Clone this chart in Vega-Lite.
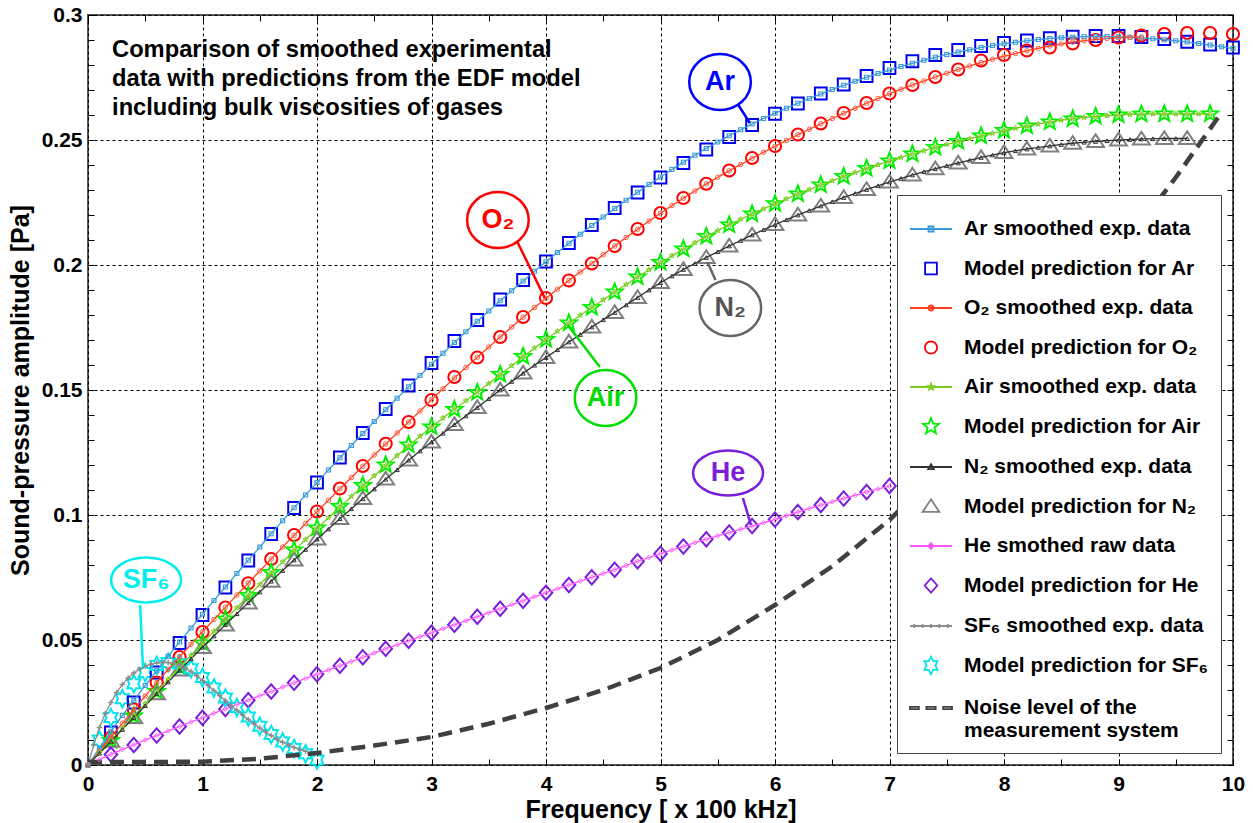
{
"$schema": "https://vega.github.io/schema/vega-lite/v6.json",
"width": 1145, "height": 750,
"autosize": {"type": "none"},
"padding": {"left": 88, "top": 15, "right": 20, "bottom": 58},
"background": "white",
"config": {
  "font": "Liberation Sans",
  "view": {"stroke": "#555555", "strokeWidth": 2},
  "axis": {"labelFont": "Liberation Sans", "labelFontSize": 21, "labelFontWeight": "bold", "labelColor": "#000000", "titleFont": "Liberation Sans", "titleFontSize": 25, "titleFontWeight": "bold", "titleColor": "#000000", "tickColor": "#000000", "tickSize": -6, "tickWidth": 1, "domain": false, "gridColor": "#000000", "gridDash": [3, 3], "gridWidth": 1, "labelOverlap": false, "labelBound": false, "labelFlush": false},
  "legend": {"padding": 12, "fillColor": "#ffffff", "strokeColor": "#444444", "labelFont": "Liberation Sans", "labelFontSize": 21, "labelFontWeight": "bold", "labelColor": "#000000", "labelLimit": 500, "labelOffset": 11, "rowPadding": 7.5, "symbolSize": 1764, "symbolStrokeWidth": 1.8, "symbolFillColor": "transparent", "symbolOpacity": 1}
},
"datasets": {
"exp": [
{"x":0,"ArE":0,"O2E":0,"AirE":0,"N2E":0,"HeE":0,"SF6E":0,"Noise":0.0012},
{"x":0.05,"SF6E":0.008},
{"x":0.1,"ArE":0.0068,"O2E":0.0055,"AirE":0.0049,"N2E":0.0047,"HeE":0.0022,"SF6E":0.015},
{"x":0.15,"SF6E":0.0205},
{"x":0.2,"ArE":0.0135,"O2E":0.0111,"AirE":0.0098,"N2E":0.0095,"HeE":0.0043,"SF6E":0.025},
{"x":0.25,"SF6E":0.029},
{"x":0.3,"ArE":0.0198,"O2E":0.0167,"AirE":0.0147,"N2E":0.0142,"HeE":0.0062,"SF6E":0.0322},
{"x":0.35,"SF6E":0.0348},
{"x":0.4,"ArE":0.0258,"O2E":0.0222,"AirE":0.0196,"N2E":0.019,"HeE":0.0081,"SF6E":0.0368},
{"x":0.45,"SF6E":0.0383},
{"x":0.5,"ArE":0.0318,"O2E":0.0276,"AirE":0.0245,"N2E":0.0237,"HeE":0.01,"SF6E":0.0395,"Noise":0.0012},
{"x":0.55,"SF6E":0.0403},
{"x":0.6,"ArE":0.0377,"O2E":0.033,"AirE":0.0294,"N2E":0.0285,"HeE":0.0118,"SF6E":0.0408},
{"x":0.65,"SF6E":0.041},
{"x":0.7,"ArE":0.0435,"O2E":0.0382,"AirE":0.0343,"N2E":0.0332,"HeE":0.0136,"SF6E":0.041},
{"x":0.75,"SF6E":0.0406},
{"x":0.8,"ArE":0.0492,"O2E":0.0433,"AirE":0.0391,"N2E":0.0379,"HeE":0.0154,"SF6E":0.0398},
{"x":0.85,"SF6E":0.0388},
{"x":0.9,"ArE":0.0548,"O2E":0.0483,"AirE":0.0439,"N2E":0.0425,"HeE":0.0172,"SF6E":0.0374},
{"x":0.95,"SF6E":0.0357},
{"x":1.0,"ArE":0.0603,"O2E":0.0533,"AirE":0.0487,"N2E":0.0471,"HeE":0.0189,"SF6E":0.0338,"Noise":0.0013},
{"x":1.05,"SF6E":0.0318},
{"x":1.1,"ArE":0.0658,"O2E":0.0582,"AirE":0.0535,"N2E":0.0516,"HeE":0.0207,"SF6E":0.0298},
{"x":1.15,"SF6E":0.0278},
{"x":1.2,"ArE":0.0712,"O2E":0.0631,"AirE":0.0582,"N2E":0.0561,"HeE":0.0224,"SF6E":0.0258},
{"x":1.25,"SF6E":0.0238},
{"x":1.3,"ArE":0.0766,"O2E":0.068,"AirE":0.0629,"N2E":0.0605,"HeE":0.0242,"SF6E":0.0219},
{"x":1.35,"SF6E":0.02},
{"x":1.4,"ArE":0.0819,"O2E":0.0728,"AirE":0.0676,"N2E":0.0649,"HeE":0.0259,"SF6E":0.0182},
{"x":1.45,"SF6E":0.0165},
{"x":1.5,"ArE":0.0872,"O2E":0.0776,"AirE":0.0722,"N2E":0.0692,"HeE":0.0277,"SF6E":0.0148,"Noise":0.0025},
{"x":1.55,"SF6E":0.0133},
{"x":1.6,"ArE":0.0925,"O2E":0.0824,"AirE":0.0768,"N2E":0.0735,"HeE":0.0294,"SF6E":0.0118},
{"x":1.65,"SF6E":0.0104},
{"x":1.7,"ArE":0.0977,"O2E":0.0872,"AirE":0.0813,"N2E":0.0778,"HeE":0.0312,"SF6E":0.0091},
{"x":1.75,"SF6E":0.008},
{"x":1.8,"ArE":0.1029,"O2E":0.0919,"AirE":0.0858,"N2E":0.082,"HeE":0.0329,"SF6E":0.007},
{"x":1.85,"SF6E":0.0062},
{"x":1.9,"ArE":0.108,"O2E":0.0966,"AirE":0.0902,"N2E":0.0862,"HeE":0.0346,"SF6E":0.0055},
{"x":2.0,"ArE":0.113,"O2E":0.1013,"AirE":0.0946,"N2E":0.0903,"HeE":0.0363,"Noise":0.0048},
{"x":2.1,"ArE":0.118,"O2E":0.1059,"AirE":0.0989,"N2E":0.0944,"HeE":0.038},
{"x":2.2,"ArE":0.1229,"O2E":0.1105,"AirE":0.1032,"N2E":0.0985,"HeE":0.0397},
{"x":2.3,"ArE":0.1278,"O2E":0.115,"AirE":0.1074,"N2E":0.1025,"HeE":0.0414},
{"x":2.4,"ArE":0.1326,"O2E":0.1195,"AirE":0.1116,"N2E":0.1065,"HeE":0.0431},
{"x":2.5,"ArE":0.1374,"O2E":0.124,"AirE":0.1157,"N2E":0.1104,"HeE":0.0448,"Noise":0.0078},
{"x":2.6,"ArE":0.1421,"O2E":0.1284,"AirE":0.1198,"N2E":0.1143,"HeE":0.0465},
{"x":2.7,"ArE":0.1467,"O2E":0.1328,"AirE":0.1238,"N2E":0.1181,"HeE":0.0481},
{"x":2.8,"ArE":0.1513,"O2E":0.1372,"AirE":0.1277,"N2E":0.1219,"HeE":0.0497},
{"x":2.9,"ArE":0.1558,"O2E":0.1416,"AirE":0.1315,"N2E":0.1256,"HeE":0.0513},
{"x":3.0,"ArE":0.1603,"O2E":0.1461,"AirE":0.1352,"N2E":0.1292,"HeE":0.0529,"Noise":0.0112},
{"x":3.1,"ArE":0.1647,"O2E":0.1505,"AirE":0.1388,"N2E":0.1327,"HeE":0.0545},
{"x":3.2,"ArE":0.169,"O2E":0.1548,"AirE":0.1423,"N2E":0.1362,"HeE":0.0561},
{"x":3.3,"ArE":0.1733,"O2E":0.159,"AirE":0.1457,"N2E":0.1396,"HeE":0.0577},
{"x":3.4,"ArE":0.1775,"O2E":0.1631,"AirE":0.1491,"N2E":0.143,"HeE":0.0593},
{"x":3.5,"ArE":0.1816,"O2E":0.1672,"AirE":0.1526,"N2E":0.1465,"HeE":0.0609,"Noise":0.0165},
{"x":3.6,"ArE":0.1857,"O2E":0.1712,"AirE":0.1561,"N2E":0.15,"HeE":0.0625},
{"x":3.7,"ArE":0.1897,"O2E":0.1752,"AirE":0.1597,"N2E":0.1534,"HeE":0.0641},
{"x":3.8,"ArE":0.1936,"O2E":0.1791,"AirE":0.1633,"N2E":0.1567,"HeE":0.0657},
{"x":3.9,"ArE":0.1975,"O2E":0.183,"AirE":0.1668,"N2E":0.1599,"HeE":0.0673},
{"x":4.0,"ArE":0.2013,"O2E":0.1867,"AirE":0.1702,"N2E":0.163,"HeE":0.0689,"Noise":0.0228},
{"x":4.1,"ArE":0.205,"O2E":0.1903,"AirE":0.1735,"N2E":0.1661,"HeE":0.0705},
{"x":4.2,"ArE":0.2087,"O2E":0.1938,"AirE":0.1767,"N2E":0.1692,"HeE":0.072},
{"x":4.3,"ArE":0.2123,"O2E":0.1972,"AirE":0.1799,"N2E":0.1722,"HeE":0.0736},
{"x":4.4,"ArE":0.2158,"O2E":0.2006,"AirE":0.183,"N2E":0.1752,"HeE":0.0751},
{"x":4.5,"ArE":0.2192,"O2E":0.2041,"AirE":0.1861,"N2E":0.1781,"HeE":0.0766,"Noise":0.03},
{"x":4.6,"ArE":0.2226,"O2E":0.2076,"AirE":0.1892,"N2E":0.181,"HeE":0.0781},
{"x":4.7,"ArE":0.2259,"O2E":0.211,"AirE":0.1922,"N2E":0.184,"HeE":0.0798},
{"x":4.8,"ArE":0.2291,"O2E":0.2143,"AirE":0.1952,"N2E":0.187,"HeE":0.0815},
{"x":4.9,"ArE":0.2322,"O2E":0.2176,"AirE":0.1981,"N2E":0.19,"HeE":0.083},
{"x":5.0,"ArE":0.2352,"O2E":0.2207,"AirE":0.2009,"N2E":0.1929,"HeE":0.0845,"Noise":0.0388},
{"x":5.1,"ArE":0.2382,"O2E":0.2238,"AirE":0.2037,"N2E":0.1956,"HeE":0.086},
{"x":5.2,"ArE":0.2411,"O2E":0.2267,"AirE":0.2063,"N2E":0.1982,"HeE":0.0874},
{"x":5.3,"ArE":0.2439,"O2E":0.2296,"AirE":0.2089,"N2E":0.2006,"HeE":0.0889},
{"x":5.4,"ArE":0.2466,"O2E":0.2324,"AirE":0.2114,"N2E":0.203,"HeE":0.0903},
{"x":5.5,"ArE":0.2492,"O2E":0.2351,"AirE":0.2138,"N2E":0.2053,"HeE":0.0917,"Noise":0.05},
{"x":5.6,"ArE":0.2517,"O2E":0.2377,"AirE":0.2161,"N2E":0.2076,"HeE":0.093},
{"x":5.7,"ArE":0.2541,"O2E":0.2402,"AirE":0.2183,"N2E":0.2098,"HeE":0.0943},
{"x":5.8,"ArE":0.2564,"O2E":0.2427,"AirE":0.2204,"N2E":0.212,"HeE":0.0956},
{"x":5.9,"ArE":0.2586,"O2E":0.2451,"AirE":0.2225,"N2E":0.2141,"HeE":0.0969},
{"x":6.0,"ArE":0.2607,"O2E":0.2475,"AirE":0.2245,"N2E":0.2161,"HeE":0.0982,"Noise":0.064},
{"x":6.1,"ArE":0.2627,"O2E":0.2498,"AirE":0.2265,"N2E":0.2181,"HeE":0.0997},
{"x":6.2,"ArE":0.2647,"O2E":0.2521,"AirE":0.2284,"N2E":0.22,"HeE":0.1012},
{"x":6.3,"ArE":0.2666,"O2E":0.2543,"AirE":0.2302,"N2E":0.2218,"HeE":0.1026},
{"x":6.4,"ArE":0.2684,"O2E":0.2565,"AirE":0.232,"N2E":0.2236,"HeE":0.104},
{"x":6.5,"ArE":0.2702,"O2E":0.2586,"AirE":0.2337,"N2E":0.2253,"HeE":0.1053,"Noise":0.0795},
{"x":6.6,"ArE":0.2719,"O2E":0.2607,"AirE":0.2354,"N2E":0.227,"HeE":0.1066},
{"x":6.7,"ArE":0.2735,"O2E":0.2627,"AirE":0.237,"N2E":0.2286,"HeE":0.1079},
{"x":6.8,"ArE":0.2751,"O2E":0.2647,"AirE":0.2386,"N2E":0.2302,"HeE":0.1092},
{"x":6.9,"ArE":0.2766,"O2E":0.2666,"AirE":0.2401,"N2E":0.2317,"HeE":0.1104},
{"x":7.0,"ArE":0.278,"O2E":0.2685,"AirE":0.2416,"N2E":0.2332,"HeE":0.1116,"Noise":0.098},
{"x":7.1,"ArE":0.2794,"O2E":0.2703,"AirE":0.243,"N2E":0.2346},
{"x":7.2,"ArE":0.2807,"O2E":0.272,"AirE":0.2444,"N2E":0.236},
{"x":7.3,"ArE":0.2819,"O2E":0.2736,"AirE":0.2457,"N2E":0.2373},
{"x":7.4,"ArE":0.2831,"O2E":0.2752,"AirE":0.247,"N2E":0.2385},
{"x":7.5,"ArE":0.2842,"O2E":0.2767,"AirE":0.2482,"N2E":0.2397,"Noise":0.121},
{"x":7.6,"ArE":0.2852,"O2E":0.2782,"AirE":0.2494,"N2E":0.2408},
{"x":7.7,"ArE":0.2861,"O2E":0.2796,"AirE":0.2505,"N2E":0.2419},
{"x":7.8,"ArE":0.287,"O2E":0.281,"AirE":0.2516,"N2E":0.243},
{"x":7.9,"ArE":0.2878,"O2E":0.2823,"AirE":0.2527,"N2E":0.244},
{"x":8.0,"ArE":0.2885,"O2E":0.2835,"AirE":0.2537,"N2E":0.2449,"Noise":0.148},
{"x":8.1,"ArE":0.2891,"O2E":0.2846,"AirE":0.2547,"N2E":0.2457},
{"x":8.2,"ArE":0.2897,"O2E":0.2857,"AirE":0.2556,"N2E":0.2464},
{"x":8.3,"ArE":0.2902,"O2E":0.2867,"AirE":0.2564,"N2E":0.247},
{"x":8.4,"ArE":0.2906,"O2E":0.2876,"AirE":0.2572,"N2E":0.2476},
{"x":8.5,"ArE":0.2909,"O2E":0.2884,"AirE":0.2579,"N2E":0.2482,"Noise":0.1765},
{"x":8.6,"ArE":0.2911,"O2E":0.2891,"AirE":0.2585,"N2E":0.2487},
{"x":8.7,"ArE":0.2913,"O2E":0.2897,"AirE":0.259,"N2E":0.2491},
{"x":8.8,"ArE":0.2914,"O2E":0.2902,"AirE":0.2594,"N2E":0.2494},
{"x":8.9,"ArE":0.2914,"O2E":0.2906,"AirE":0.2597,"N2E":0.2497},
{"x":9.0,"ArE":0.2913,"O2E":0.2909,"AirE":0.26,"N2E":0.25,"Noise":0.205},
{"x":9.1,"ArE":0.2911,"O2E":0.2911,"AirE":0.2602,"N2E":0.2502},
{"x":9.2,"ArE":0.2908,"O2E":0.2912,"AirE":0.2603,"N2E":0.2504},
{"x":9.3,"ArE":0.2905,"AirE":0.2604,"N2E":0.2505},
{"x":9.4,"ArE":0.2901,"AirE":0.2604,"N2E":0.2506},
{"x":9.5,"ArE":0.2897,"AirE":0.2604,"N2E":0.2506,"Noise":0.235},
{"x":9.6,"ArE":0.2892,"AirE":0.2604,"N2E":0.2506},
{"x":9.7,"ArE":0.2886,"AirE":0.2604},
{"x":9.8,"ArE":0.288,"AirE":0.2604},
{"x":9.9,"ArE":0.2873,"Noise":0.261},
{"x":10.0,"ArE":0.2866}
],
"mod": [
{"x":0.1,"SF6M":0.01},
{"x":0.2,"ArM":0.013,"O2M":0.011,"AirM":0.0098,"N2M":0.0095,"HeM":0.0042,"SF6M":0.019},
{"x":0.3,"SF6M":0.0265},
{"x":0.4,"ArM":0.025,"O2M":0.0222,"AirM":0.0196,"N2M":0.019,"HeM":0.008,"SF6M":0.0325},
{"x":0.5,"SF6M":0.037},
{"x":0.6,"ArM":0.037,"O2M":0.033,"AirM":0.0294,"N2M":0.0285,"HeM":0.0118,"SF6M":0.0398},
{"x":0.7,"SF6M":0.041},
{"x":0.8,"ArM":0.0488,"O2M":0.0432,"AirM":0.0392,"N2M":0.038,"HeM":0.0154,"SF6M":0.0405},
{"x":0.9,"SF6M":0.0385},
{"x":1.0,"ArM":0.06,"O2M":0.0532,"AirM":0.0488,"N2M":0.047,"HeM":0.0189,"SF6M":0.035},
{"x":1.1,"SF6M":0.0308},
{"x":1.2,"ArM":0.071,"O2M":0.063,"AirM":0.0584,"N2M":0.056,"HeM":0.0224,"SF6M":0.0268},
{"x":1.3,"SF6M":0.023},
{"x":1.4,"ArM":0.0818,"O2M":0.0727,"AirM":0.0678,"N2M":0.0648,"HeM":0.0259,"SF6M":0.0192},
{"x":1.5,"SF6M":0.0155},
{"x":1.6,"ArM":0.0924,"O2M":0.0824,"AirM":0.077,"N2M":0.0735,"HeM":0.0294,"SF6M":0.0122},
{"x":1.7,"SF6M":0.0092},
{"x":1.8,"ArM":0.1028,"O2M":0.092,"AirM":0.086,"N2M":0.082,"HeM":0.0329,"SF6M":0.0066},
{"x":1.9,"SF6M":0.0045},
{"x":2.0,"ArM":0.113,"O2M":0.1014,"AirM":0.0948,"N2M":0.0904,"HeM":0.0363,"SF6M":0.002},
{"x":2.2,"ArM":0.123,"O2M":0.1106,"AirM":0.1034,"N2M":0.0986,"HeM":0.0397},
{"x":2.4,"ArM":0.1328,"O2M":0.1196,"AirM":0.1118,"N2M":0.1066,"HeM":0.0431},
{"x":2.6,"ArM":0.1424,"O2M":0.1285,"AirM":0.12,"N2M":0.1144,"HeM":0.0465},
{"x":2.8,"ArM":0.1518,"O2M":0.1372,"AirM":0.128,"N2M":0.122,"HeM":0.0497},
{"x":3.0,"ArM":0.1608,"O2M":0.146,"AirM":0.1352,"N2M":0.1292,"HeM":0.0529},
{"x":3.2,"ArM":0.1696,"O2M":0.1552,"AirM":0.1422,"N2M":0.1362,"HeM":0.0561},
{"x":3.4,"ArM":0.178,"O2M":0.163,"AirM":0.149,"N2M":0.143,"HeM":0.0593},
{"x":3.6,"ArM":0.1862,"O2M":0.1712,"AirM":0.1562,"N2M":0.15,"HeM":0.0625},
{"x":3.8,"ArM":0.194,"O2M":0.1792,"AirM":0.1634,"N2M":0.1568,"HeM":0.0657},
{"x":4.0,"ArM":0.2014,"O2M":0.1868,"AirM":0.1702,"N2M":0.163,"HeM":0.0689},
{"x":4.2,"ArM":0.2088,"O2M":0.1938,"AirM":0.1768,"N2M":0.1692,"HeM":0.072},
{"x":4.4,"ArM":0.216,"O2M":0.2006,"AirM":0.183,"N2M":0.1752,"HeM":0.0751},
{"x":4.6,"ArM":0.2228,"O2M":0.2076,"AirM":0.1892,"N2M":0.181,"HeM":0.0781},
{"x":4.8,"ArM":0.229,"O2M":0.2144,"AirM":0.1952,"N2M":0.187,"HeM":0.0815},
{"x":5.0,"ArM":0.235,"O2M":0.2208,"AirM":0.201,"N2M":0.193,"HeM":0.0845},
{"x":5.2,"ArM":0.2408,"O2M":0.2268,"AirM":0.2064,"N2M":0.1982,"HeM":0.0874},
{"x":5.4,"ArM":0.2462,"O2M":0.2325,"AirM":0.2114,"N2M":0.203,"HeM":0.0903},
{"x":5.6,"ArM":0.2512,"O2M":0.2378,"AirM":0.216,"N2M":0.2076,"HeM":0.093},
{"x":5.8,"ArM":0.256,"O2M":0.2428,"AirM":0.2204,"N2M":0.212,"HeM":0.0956},
{"x":6.0,"ArM":0.2605,"O2M":0.2476,"AirM":0.2245,"N2M":0.2162,"HeM":0.0982},
{"x":6.2,"ArM":0.2646,"O2M":0.2522,"AirM":0.2284,"N2M":0.22,"HeM":0.1012},
{"x":6.4,"ArM":0.2686,"O2M":0.2566,"AirM":0.232,"N2M":0.2236,"HeM":0.104},
{"x":6.6,"ArM":0.2722,"O2M":0.2608,"AirM":0.2354,"N2M":0.227,"HeM":0.1066},
{"x":6.8,"ArM":0.2756,"O2M":0.2648,"AirM":0.2386,"N2M":0.2302,"HeM":0.1092},
{"x":7.0,"ArM":0.2788,"O2M":0.2686,"AirM":0.2416,"N2M":0.2332,"HeM":0.1116},
{"x":7.2,"ArM":0.2815,"O2M":0.272,"AirM":0.2444,"N2M":0.236},
{"x":7.4,"ArM":0.284,"O2M":0.2752,"AirM":0.247,"N2M":0.2385},
{"x":7.6,"ArM":0.286,"O2M":0.2782,"AirM":0.2494,"N2M":0.2408},
{"x":7.8,"ArM":0.2876,"O2M":0.2818,"AirM":0.2516,"N2M":0.243},
{"x":8.0,"ArM":0.2888,"O2M":0.284,"AirM":0.2538,"N2M":0.245},
{"x":8.2,"ArM":0.2898,"O2M":0.2858,"AirM":0.2556,"N2M":0.2464},
{"x":8.4,"ArM":0.2907,"O2M":0.287,"AirM":0.2572,"N2M":0.2476},
{"x":8.6,"ArM":0.2913,"O2M":0.2886,"AirM":0.2584,"N2M":0.2487},
{"x":8.8,"ArM":0.2916,"O2M":0.29,"AirM":0.2594,"N2M":0.2494},
{"x":9.0,"ArM":0.2916,"O2M":0.291,"AirM":0.26,"N2M":0.25},
{"x":9.2,"ArM":0.2912,"O2M":0.2918,"AirM":0.2603,"N2M":0.2504},
{"x":9.4,"ArM":0.2904,"O2M":0.2924,"AirM":0.2604,"N2M":0.2506},
{"x":9.6,"ArM":0.2893,"O2M":0.2928,"AirM":0.2604,"N2M":0.2506},
{"x":9.8,"ArM":0.2882,"O2M":0.2928,"AirM":0.2604},
{"x":10.0,"ArM":0.287,"O2M":0.2924}
],
"callouts": [
{"lbl":"Ar","cx":5.52,"cy":0.2732,"x1":5.68,"y1":0.264,"x2":5.78,"y2":0.2568},
{"lbl":"O₂","cx":3.58,"cy":0.218,"x1":3.75,"y1":0.2092,"x2":3.99,"y2":0.1868},
{"lbl":"Air","cx":4.52,"cy":0.1468,"x1":4.47,"y1":0.1592,"x2":4.19,"y2":0.176},
{"lbl":"N₂","cx":5.61,"cy":0.1828,"x1":5.48,"y1":0.194,"x2":5.41,"y2":0.2012},
{"lbl":"He","cx":5.59,"cy":0.1168,"x1":5.72,"y1":0.1068,"x2":5.79,"y2":0.096},
{"lbl":"SF₆","cx":0.507,"cy":0.074,"x1":0.455,"y1":0.064,"x2":0.48,"y2":0.0392}
],
"note": [
{"x":0.21,"y":0.2832,"t":"Comparison of smoothed experimental\ndata with predictions from the EDF model\nincluding bulk viscosities of gases"}
]
},
"layer": [
{
"data": {"name": "mod"},
"transform": [{"fold": ["ArM","O2M","AirM","N2M","HeM","SF6M"], "as": ["s","y"]}, {"filter": "isValid(datum.y)"}],
"mark": {"type": "point", "filled": false, "size": 1764, "strokeWidth": 2, "opacity": 1},
"encoding": {
  "x": {"field": "x", "type": "quantitative", "scale": {"domain": [0,10], "nice": false}, "axis": {"orient": "bottom", "values": [0,0.5,1,1.5,2,2.5,3,3.5,4,4.5,5,5.5,6,6.5,7,7.5,8,8.5,9,9.5,10], "labelExpr": "datum.value % 1 == 0 ? format(datum.value, 'd') : ''", "grid": true, "gridOpacity": {"condition": {"test": "datum.value % 1 == 0", "value": 1}, "value": 0}, "title": "Frequency [ x 100 kHz]", "labelPadding": 14, "titlePadding": 3}},
  "y": {"field": "y", "type": "quantitative", "scale": {"domain": [0,0.3], "nice": false}, "axis": {"orient": "left", "values": [0,0.01,0.02,0.03,0.04,0.05,0.06,0.07,0.08,0.09,0.1,0.11,0.12,0.13,0.14,0.15,0.16,0.17,0.18,0.19,0.2,0.21,0.22,0.23,0.24,0.25,0.26,0.27,0.28,0.29,0.3], "labelExpr": "round(datum.value*100) % 5 == 0 ? format(datum.value, '~g') : ''", "grid": true, "gridOpacity": {"condition": {"test": "round(datum.value*100) % 5 == 0", "value": 1}, "value": 0}, "title": "Sound-pressure amplitude [Pa]", "labelPadding": 12, "titlePadding": 8}},
  "color": {"field": "s", "type": "nominal",
    "scale": {"domain": ["ArE","ArM","O2E","O2M","AirE","AirM","N2E","N2M","HeE","HeM","SF6E","SF6M","Noise"],
              "range": ["#3a9ad9","#0000ee","#ff4020","#ff0000","#7acc1e","#00ee00","#333333","#808080","#ff55ff","#7b1fdc","#8c8c8c","#00e5ee","#404040"]},
    "legend": {"title": null, "orient": "none", "legendX": 809, "legendY": 180, "direction": "vertical",
      "labelExpr": "datum.value=='ArE'?'Ar smoothed exp. data':datum.value=='ArM'?'Model prediction for Ar':datum.value=='O2E'?'O₂ smoothed exp. data':datum.value=='O2M'?'Model prediction for O₂':datum.value=='AirE'?'Air smoothed exp. data':datum.value=='AirM'?'Model prediction for Air':datum.value=='N2E'?'N₂ smoothed exp. data':datum.value=='N2M'?'Model prediction for N₂':datum.value=='HeE'?'He smothed raw data':datum.value=='HeM'?'Model prediction for He':datum.value=='SF6E'?'SF₆ smoothed exp. data':datum.value=='SF6M'?'Model prediction for SF₆':['Noise level of the','measurement system']"}},
  "shape": {"field": "s", "type": "nominal",
    "scale": {"domain": ["ArE","ArM","O2E","O2M","AirE","AirM","N2E","N2M","HeE","HeM","SF6E","SF6M","Noise"],
              "range": [
                "M-1,0H1M-0.12,-0.12H0.12V0.12H-0.12Z",
                "M-0.28,-0.28H0.28V0.28H-0.28Z",
                "M-1,0H1M-0.12,0A0.12,0.12 0 1,0 0.12,0A0.12,0.12 0 1,0 -0.12,0Z",
                "M-0.29,0A0.29,0.29 0 1,0 0.29,0A0.29,0.29 0 1,0 -0.29,0Z",
                "M-1,0H1M0,-0.15L0.037,-0.051L0.143,-0.046L0.06,0.019L0.088,0.121L0,0.063L-0.088,0.121L-0.06,0.019L-0.143,-0.046L-0.037,-0.051Z",
                "M0,-0.4L0.099,-0.136L0.38,-0.124L0.16,0.052L0.235,0.324L0,0.168L-0.235,0.324L-0.16,0.052L-0.38,-0.124L-0.099,-0.136Z",
                "M-1,0H1M0,-0.13L0.13,0.1H-0.13Z",
                "M0,-0.34L0.4,0.26H-0.4Z",
                "M-1,0H1M0,-0.14L0.12,0L0,0.14L-0.12,0Z",
                "M0,-0.34L0.3,0L0,0.34L-0.3,0Z",
                "M-1,0H1M-0.8,-0.09V0.09M-0.4,-0.09V0.09M0,-0.09V0.09M0.4,-0.09V0.09M0.8,-0.09V0.09",
                "M0,-0.42L0.104,-0.21L0.312,-0.21L0.208,0L0.312,0.21L0.104,0.21L0,0.42L-0.104,0.21L-0.312,0.21L-0.208,0L-0.312,-0.21L-0.104,-0.21Z",
                "M-1,-0.05H-0.58V0.05H-1ZM-0.22,-0.05H0.22V0.05H-0.22ZM0.58,-0.05H1V0.05H0.58Z"
              ]},
    "legend": {"title": null, "orient": "none", "legendX": 809, "legendY": 180, "direction": "vertical",
      "labelExpr": "datum.value=='ArE'?'Ar smoothed exp. data':datum.value=='ArM'?'Model prediction for Ar':datum.value=='O2E'?'O₂ smoothed exp. data':datum.value=='O2M'?'Model prediction for O₂':datum.value=='AirE'?'Air smoothed exp. data':datum.value=='AirM'?'Model prediction for Air':datum.value=='N2E'?'N₂ smoothed exp. data':datum.value=='N2M'?'Model prediction for N₂':datum.value=='HeE'?'He smothed raw data':datum.value=='HeM'?'Model prediction for He':datum.value=='SF6E'?'SF₆ smoothed exp. data':datum.value=='SF6M'?'Model prediction for SF₆':['Noise level of the','measurement system']"}}
}
},
{
"data": {"name": "exp"},
"transform": [{"fold": ["ArE","O2E","AirE","N2E","HeE","SF6E","Noise"], "as": ["s","y"]}, {"filter": "isValid(datum.y)"}],
"mark": {"type": "line", "strokeCap": "butt"},
"encoding": {
  "x": {"field": "x", "type": "quantitative", "axis": null},
  "y": {"field": "y", "type": "quantitative", "axis": null},
  "color": {"field": "s", "type": "nominal"},
  "strokeWidth": {"condition": {"test": "datum.s == 'Noise'", "value": 4.5}, "value": 1.3},
  "strokeDash": {"condition": {"test": "datum.s == 'Noise'", "value": [14, 8]}, "value": [1, 0]}
}
},
{
"data": {"name": "exp"},
"transform": [{"filter": "isValid(datum.ArE)"}],
"mark": {"type": "point", "shape": "square", "size": 16, "filled": false, "strokeWidth": 1.2, "color": "#3a9ad9", "opacity": 1},
"encoding": {
  "x": {"field": "x", "type": "quantitative", "axis": {"orient": "top", "values": [0,0.5,1,1.5,2,2.5,3,3.5,4,4.5,5,5.5,6,6.5,7,7.5,8,8.5,9,9.5,10], "labels": false, "grid": false, "title": null}},
  "y": {"field": "ArE", "type": "quantitative", "axis": {"orient": "right", "values": [0,0.01,0.02,0.03,0.04,0.05,0.06,0.07,0.08,0.09,0.1,0.11,0.12,0.13,0.14,0.15,0.16,0.17,0.18,0.19,0.2,0.21,0.22,0.23,0.24,0.25,0.26,0.27,0.28,0.29,0.3], "labels": false, "grid": false, "title": null}}
}
},
{
"data": {"name": "exp"},
"transform": [{"filter": "isValid(datum.O2E)"}],
"mark": {"type": "point", "shape": "circle", "size": 20, "filled": false, "strokeWidth": 1, "color": "#ff5a3c", "opacity": 1},
"encoding": {"x": {"field": "x", "type": "quantitative", "axis": null}, "y": {"field": "O2E", "type": "quantitative", "axis": null}}
},
{
"data": {"name": "exp"},
"transform": [{"filter": "isValid(datum.AirE)"}],
"mark": {"type": "point", "shape": "M0,-1L0.245,-0.337L0.951,-0.309L0.397,0.129L0.588,0.809L0,0.42L-0.588,0.809L-0.397,0.129L-0.951,-0.309L-0.245,-0.337Z", "size": 30, "filled": false, "strokeWidth": 1, "color": "#7acc1e", "opacity": 1},
"encoding": {"x": {"field": "x", "type": "quantitative", "axis": null}, "y": {"field": "AirE", "type": "quantitative", "axis": null}}
},
{
"data": {"name": "exp"},
"transform": [{"filter": "isValid(datum.N2E)"}],
"mark": {"type": "point", "shape": "triangle-up", "size": 18, "filled": false, "strokeWidth": 1, "color": "#333333", "opacity": 1},
"encoding": {"x": {"field": "x", "type": "quantitative", "axis": null}, "y": {"field": "N2E", "type": "quantitative", "axis": null}}
},
{
"data": {"name": "exp"},
"transform": [{"filter": "isValid(datum.HeE)"}],
"mark": {"type": "point", "shape": "diamond", "size": 22, "filled": false, "strokeWidth": 1, "color": "#ff66ff", "opacity": 1},
"encoding": {"x": {"field": "x", "type": "quantitative", "axis": null}, "y": {"field": "HeE", "type": "quantitative", "axis": null}}
},
{
"data": {"name": "exp"},
"transform": [{"filter": "isValid(datum.SF6E)"}],
"mark": {"type": "point", "shape": "M-1,0H1M0,-1V1", "size": 30, "filled": false, "strokeWidth": 1.3, "color": "#8c8c8c", "opacity": 1},
"encoding": {"x": {"field": "x", "type": "quantitative", "axis": null}, "y": {"field": "SF6E", "type": "quantitative", "axis": null}}
},
{
"data": {"name": "callouts"},
"mark": {"type": "rule", "strokeWidth": 2.5},
"encoding": {
  "x": {"field": "x1", "type": "quantitative", "axis": null},
  "y": {"field": "y1", "type": "quantitative", "axis": null},
  "x2": {"field": "x2"}, "y2": {"field": "y2"},
  "stroke": {"field": "lbl", "type": "nominal", "scale": {"domain": ["Ar","O₂","Air","N₂","He","SF₆"], "range": ["#0000ff","#ff0000","#00dd00","#666666","#7b1fdc","#00eeee"]}, "legend": null}
}
},
{
"data": {"name": "callouts"},
"transform": [{"filter": "datum.lbl != 'He' && datum.lbl != 'SF₆'"}],
"mark": {"type": "point", "shape": "M-1.1,0A1.1,1 0 1,0 1.1,0A1.1,1 0 1,0 -1.1,0Z", "size": 3136, "filled": false, "strokeWidth": 2.5, "opacity": 1},
"encoding": {
  "x": {"field": "cx", "type": "quantitative", "axis": null},
  "y": {"field": "cy", "type": "quantitative", "axis": null},
  "stroke": {"field": "lbl", "type": "nominal", "legend": null}
}
},
{
"data": {"name": "callouts"},
"transform": [{"filter": "datum.lbl == 'He' || datum.lbl == 'SF₆'"}],
"mark": {"type": "point", "shape": "M-1.4,0A1.4,0.9 0 1,0 1.4,0A1.4,0.9 0 1,0 -1.4,0Z", "size": 2500, "filled": false, "strokeWidth": 2.5, "opacity": 1},
"encoding": {
  "x": {"field": "cx", "type": "quantitative", "axis": null},
  "y": {"field": "cy", "type": "quantitative", "axis": null},
  "stroke": {"field": "lbl", "type": "nominal", "legend": null}
}
},
{
"data": {"name": "callouts"},
"mark": {"type": "text", "fontSize": 27, "fontWeight": "bold", "font": "Liberation Sans", "align": "center", "baseline": "middle"},
"encoding": {
  "x": {"field": "cx", "type": "quantitative", "axis": null},
  "y": {"field": "cy", "type": "quantitative", "axis": null},
  "text": {"field": "lbl"},
  "fill": {"field": "lbl", "type": "nominal", "scale": {"domain": ["Ar","O₂","Air","N₂","He","SF₆"], "range": ["#0000ff","#ff0000","#00dd00","#555555","#7b1fdc","#00eeee"]}, "legend": null}
}
},
{
"data": {"name": "note"},
"mark": {"type": "text", "align": "left", "baseline": "alphabetic", "lineBreak": "\n", "lineHeight": 29, "fontSize": 23.7, "fontWeight": "bold", "font": "Liberation Sans", "color": "#000000"},
"encoding": {
  "x": {"field": "x", "type": "quantitative", "axis": null},
  "y": {"field": "y", "type": "quantitative", "axis": null},
  "text": {"field": "t"}
}
}
]
}
